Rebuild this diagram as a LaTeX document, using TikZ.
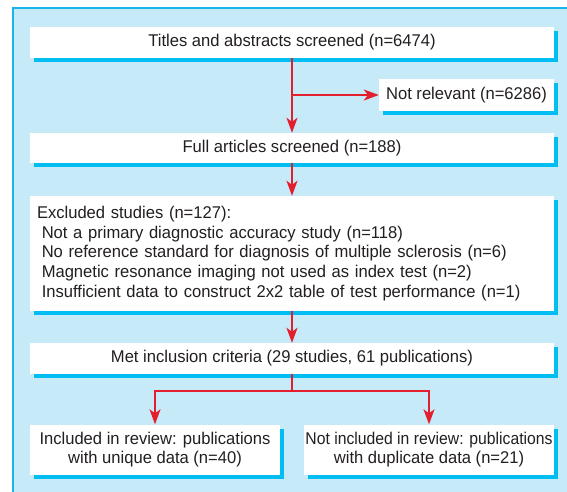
\documentclass[tikz,border=0pt]{standalone}
\usepackage{fontspec}
\setmainfont{Liberation Sans}[FakeStretch=0.975]
\newfontfamily\narrowfont{Liberation Sans}[FakeStretch=0.925]
\usetikzlibrary{arrows.meta,shadows}
\definecolor{panelc}{HTML}{C7EAF9}
\definecolor{borderc}{HTML}{19B5E8}
\definecolor{shadowc}{HTML}{00BEF2}
\definecolor{redc}{HTML}{E31E2D}
\definecolor{textc}{HTML}{231F20}
\tikzset{
  box/.style={fill=white, inner sep=0pt, text=textc,
    font=\fontsize{17}{19.6}\selectfont,
    general shadow={fill=shadowc, shadow xshift=4pt, shadow yshift=-4pt}},
  arr/.style={draw=redc, line width=1.5pt, -{Stealth[length=15pt,width=11pt,inset=4pt]}},
  ln/.style={draw=redc, line width=1.5pt}
}
\begin{document}
\begin{tikzpicture}[x=1pt,y=-1pt]
\useasboundingbox (0,0) rectangle (567,492);
\fill[panelc] (12,7) rectangle (567,492);
\draw[borderc, line width=1.6pt] (12.8,492) -- (12.8,7.8) -- (567,7.8);

\node[box, minimum width=524pt, minimum height=31pt] (t) at (292,42.5) {Titles and abstracts screened (n=6474)};
\node[box, minimum width=175pt, minimum height=32pt] (nr) at (466.5,95) {Not relevant (n=6286)};
\node[box, minimum width=524pt, minimum height=30pt] (fa) at (292,148) {Full articles screened (n=188)};
\node[box, minimum width=524pt, minimum height=115pt, text width=510pt, align=left] (ex) at (292,253.5)
  {Excluded studies (n=127):\\
   \hspace*{0.28em}Not a primary diagnostic accuracy study (n=118)\\
   \hspace*{0.28em}No reference standard for diagnosis of multiple sclerosis (n=6)\\
   \hspace*{0.28em}Magnetic resonance imaging not used as index test (n=2)\\
   \hspace*{0.28em}Insufficient data to construct 2x2 table of test performance (n=1)};
\node[box, minimum width=524pt, minimum height=31pt] (mi) at (292,358.5) {Met inclusion criteria (29 studies, 61 publications)};
\node[box, minimum width=250pt, minimum height=50pt, align=center] (l) at (155,449.5)
  {Included in review: publications\\with unique data (n=40)};
\node[box, minimum width=250pt, minimum height=50pt, align=center] (r) at (429,449.5)
  {{\narrowfont Not included in review: publications}\\with duplicate data (n=21)};

\draw[arr] (t.south) -- (fa.north);
\draw[arr] (t.south |- nr.west) -- (nr.west);
\draw[arr] (fa.south) -- (ex.north);
\draw[arr] (ex.south) -- (mi.north);
\coordinate (sp) at (292,391);
\draw[ln] (mi.south) -- (sp);
\draw[arr] (sp) -| (l.north);
\draw[arr] (sp) -| (r.north);
\end{tikzpicture}
\end{document}
